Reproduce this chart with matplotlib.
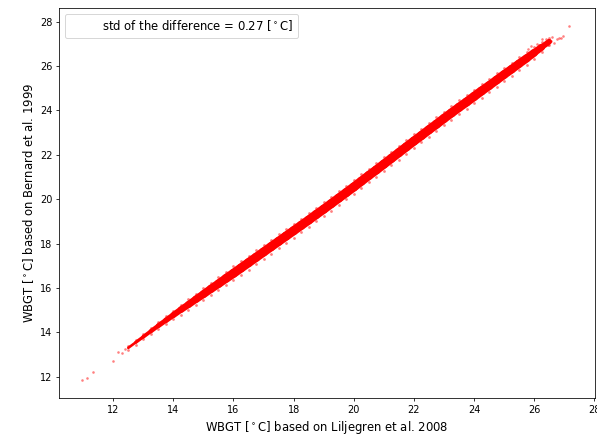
import numpy as np
import matplotlib
matplotlib.use("Agg")
import matplotlib.pyplot as plt
from matplotlib.collections import LineCollection

# WBGT Liljegren (x) vs Bernard (y)

# centro de la banda
x_band = [12.5, 12.75, 13.0, 13.25, 13.5, 13.75, 14.0, 14.25, 14.5, 14.75,
          15.0, 15.25, 15.5, 15.75, 16.0, 16.25, 16.5, 16.75, 17.0, 17.25,
          17.5, 17.75, 18.0, 18.25, 18.5, 18.75, 19.0, 19.25, 19.5, 19.75,
          20.0, 20.25, 20.5, 20.75, 21.0, 21.25, 21.5, 21.75, 22.0, 22.25,
          22.5, 22.75, 23.0, 23.25, 23.5, 23.75, 24.0, 24.25, 24.5, 24.75,
          25.0, 25.25, 25.5, 25.75, 26.0, 26.25, 26.5]
y_band = [13.30, 13.55, 13.80, 14.05, 14.30, 14.54, 14.78, 15.02, 15.25, 15.49,
          15.72, 15.96, 16.19, 16.43, 16.66, 16.90, 17.14, 17.38, 17.62, 17.86,
          18.10, 18.34, 18.58, 18.82, 19.06, 19.31, 19.55, 19.80, 20.05, 20.30,
          20.55, 20.81, 21.07, 21.32, 21.58, 21.84, 22.10, 22.36, 22.62, 22.87,
          23.13, 23.38, 23.64, 23.89, 24.14, 24.38, 24.63, 24.88, 25.12, 25.37,
          25.62, 25.86, 26.11, 26.35, 26.60, 26.85, 27.10]
# semiancho de la banda
spread = [0.08, 0.10, 0.12, 0.14, 0.16, 0.18, 0.20, 0.22, 0.24, 0.25,
          0.27, 0.28, 0.29, 0.30, 0.31, 0.31, 0.31, 0.31, 0.31, 0.31,
          0.31, 0.31, 0.31, 0.31, 0.31, 0.31, 0.31, 0.31, 0.31, 0.31,
          0.31, 0.31, 0.31, 0.31, 0.31, 0.31, 0.31, 0.31, 0.31, 0.31,
          0.31, 0.31, 0.31, 0.31, 0.31, 0.31, 0.31, 0.31, 0.30, 0.30,
          0.30, 0.29, 0.29, 0.28, 0.26, 0.22, 0.17]

# puntos sueltos en los extremos
x_out = [10.97, 11.14, 11.34, 12.0, 12.17, 12.3, 12.4,
         26.17, 26.27, 26.47, 26.67, 26.84, 26.97, 27.17, 26.1, 26.4,
         26.6, 26.75, 26.9, 25.9, 26.05, 26.55, 26.35, 25.8]
y_out = [11.87, 11.96, 12.22, 12.72, 13.1, 13.05, 13.25,
         26.97, 27.24, 26.97, 27.02, 27.28, 27.37, 27.82, 27.0, 27.2,
         27.3, 27.2, 27.25, 26.9, 26.8, 27.15, 27.05, 26.75]

std_diff = 0.27

x_band = np.array(x_band)
y_band = np.array(y_band)
spread = np.array(spread)

fig = plt.figure(figsize=(597 / 70, 442 / 70), dpi=70)
ax = fig.add_axes([0.099, 0.0995, 0.898, 0.883])

# nucleo de la banda, ancho segun el semiancho leido
pts = np.column_stack([x_band, y_band])
segs = np.stack([pts[:-1], pts[1:]], axis=1)
widths = 30 * (spread[:-1] + spread[1:]) / 2
ax.add_collection(LineCollection(segs, linewidths=widths, colors="red",
                                 capstyle="round"))

ax.scatter(x_band, y_band + spread, s=8, color="red", alpha=0.5, lw=0)
ax.scatter(x_band, y_band - spread, s=8, color="red", alpha=0.5, lw=0)
ax.scatter(x_out, y_out, s=7, color="red", alpha=0.5, lw=0)

handle = plt.Line2D([], [], linestyle="none",
                    label="std of the difference = %.2f [$^\\circ$C]" % std_diff)
ax.legend(handles=[handle], loc="upper left", fontsize=12)

ax.set_xlim(10.2, 28.03)
ax.set_ylim(11.04, 28.63)
ax.set_xticks(range(12, 29, 2))
ax.set_yticks(range(12, 29, 2))
ax.tick_params(labelsize=10)

ax.set_xlabel("WBGT [$^\\circ$C] based on Liljegren et al. 2008", fontsize=12)
ax.set_ylabel("WBGT [$^\\circ$C] based on Bernard et al. 1999", fontsize=12)

fig.savefig("out.png", dpi=70)
